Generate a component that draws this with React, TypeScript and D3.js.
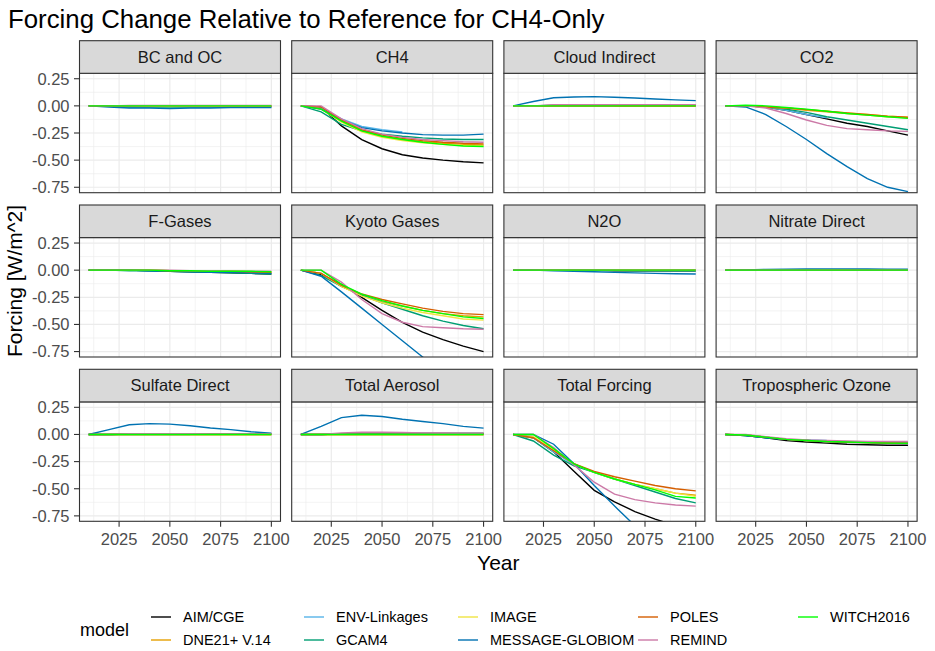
import * as d3 from 'd3'

// years shared by all series
const YEARS = [2010, 2020, 2030, 2040, 2050, 2060, 2070, 2080, 2090, 2100]

const MODELS = ['AIM/CGE', 'DNE21+ V.14', 'ENV-Linkages', 'GCAM4', 'IMAGE', 'MESSAGE-GLOBIOM', 'POLES', 'REMIND', 'WITCH2016']
const COLORS = ['#000000', '#E69F00', '#56B4E9', '#009E73', '#F0E442', '#0072B2', '#D55E00', '#CC79A7', '#00FF00']

const PANELS = ['BC and OC', 'CH4', 'Cloud Indirect', 'CO2', 'F-Gases', 'Kyoto Gases', 'N2O', 'Nitrate Direct',
  'Sulfate Direct', 'Total Aerosol', 'Total Forcing', 'Tropospheric Ozone']

const X_TICKS = [2025, 2050, 2075, 2100]
const Y_TICKS = [0.25, 0, -0.25, -0.5, -0.75]
const Y_LABELS = ['0.25', '0.00', '-0.25', '-0.50', '-0.75']

type S = (number | null)[]
const N = null

// one row per model, in MODELS order
const bcOc: S[] = [
  [0, 0, -0.005, -0.005, -0.005, -0.005, -0.005, -0.005, -0.005, -0.005],
  [0, 0, 0, 0, 0, 0, 0, 0, 0, 0],
  [0, 0, -0.005, -0.005, -0.005, -0.005, N, N, N, N],
  [0, -0.005, -0.01, -0.01, -0.01, -0.01, -0.01, -0.01, -0.01, -0.01],
  [0, 0, 0, -0.005, -0.005, -0.005, -0.005, -0.005, -0.005, -0.005],
  [0, -0.01, -0.02, -0.02, -0.025, -0.02, -0.02, -0.015, -0.015, -0.015],
  [0, 0, 0, 0, 0, 0, 0, 0, 0, 0],
  [0, 0, 0.004, 0.004, 0.004, 0.004, 0.004, 0.004, 0.004, 0.004],
  [0, 0, 0, 0, 0, 0, 0, 0, 0, 0],
]
const ch4: S[] = [
  [0, -0.01, -0.185, -0.31, -0.395, -0.45, -0.48, -0.5, -0.515, -0.525],
  [0, -0.02, -0.14, -0.23, -0.28, -0.31, -0.33, -0.345, -0.355, -0.36],
  [0, -0.02, -0.12, -0.19, -0.22, -0.24, N, N, N, N],
  [0, -0.055, -0.17, -0.23, -0.26, -0.28, -0.295, -0.305, -0.31, -0.31],
  [0, -0.03, -0.15, -0.24, -0.29, -0.32, -0.34, -0.355, -0.365, -0.37],
  [0, -0.03, -0.13, -0.2, -0.23, -0.25, -0.265, -0.27, -0.27, -0.26],
  [0, -0.01, -0.13, -0.22, -0.27, -0.3, -0.32, -0.335, -0.345, -0.35],
  [0, 0, -0.12, -0.21, -0.26, -0.29, -0.31, -0.32, -0.33, -0.335],
  [0, -0.03, -0.14, -0.23, -0.28, -0.31, -0.335, -0.355, -0.37, -0.375],
]
const cloudIndirect: S[] = [
  [0, 0, 0, 0, 0, 0, 0, 0, 0, 0],
  [0, 0, 0.003, 0.003, 0.003, 0.003, 0.003, 0.003, 0.003, 0.003],
  [0, 0, 0, 0, 0, 0, N, N, N, N],
  [0, 0, 0.005, 0.005, 0.005, 0.005, 0.005, 0.005, 0.005, 0.005],
  [0, 0, 0, 0, 0, 0, 0, 0, 0, 0],
  [0, 0.04, 0.075, 0.082, 0.085, 0.08, 0.072, 0.063, 0.055, 0.048],
  [0, 0, 0, 0, 0, 0, 0, 0, 0, 0],
  [0, 0, 0.01, 0.01, 0.01, 0.01, 0.01, 0.01, 0.01, 0.01],
  [0, 0, 0, 0, 0, 0, 0, 0, 0, 0],
]
const co2: S[] = [
  [0, 0, -0.01, -0.04, -0.08, -0.12, -0.16, -0.19, -0.23, -0.27],
  [0, 0, -0.01, -0.02, -0.04, -0.055, -0.07, -0.085, -0.1, -0.11],
  [0, 0, -0.01, -0.04, -0.08, -0.11, N, N, N, N],
  [0, 0, -0.01, -0.03, -0.06, -0.1, -0.13, -0.16, -0.19, -0.22],
  [0, 0, -0.01, -0.02, -0.035, -0.05, -0.065, -0.08, -0.095, -0.105],
  [0, -0.01, -0.08, -0.19, -0.31, -0.44, -0.56, -0.67, -0.75, -0.79],
  [0, 0, -0.01, -0.02, -0.035, -0.05, -0.065, -0.08, -0.095, -0.105],
  [0, 0, -0.02, -0.07, -0.13, -0.18, -0.21, -0.22, -0.23, -0.235],
  [0, 0.005, 0, -0.015, -0.03, -0.05, -0.07, -0.085, -0.1, -0.115],
]
const fGases: S[] = [
  [0, 0, 0, -0.005, -0.01, -0.015, -0.02, -0.025, -0.03, -0.035],
  [0, 0, 0, 0, -0.005, -0.01, -0.01, -0.015, -0.02, -0.02],
  [0, 0, 0, -0.005, -0.005, -0.01, N, N, N, N],
  [0, 0, -0.005, -0.005, -0.01, -0.015, -0.02, -0.025, -0.03, -0.035],
  [0, 0, 0, 0, -0.005, -0.005, -0.01, -0.01, -0.015, -0.015],
  [0, 0, 0, -0.005, -0.01, -0.015, -0.02, -0.02, -0.025, -0.03],
  [0, 0, 0, 0, -0.005, -0.005, -0.01, -0.01, -0.015, -0.02],
  [0, 0, 0, 0, 0, -0.005, -0.005, -0.01, -0.01, -0.01],
  [0, 0, 0, 0, -0.005, -0.005, -0.01, -0.01, -0.01, -0.015],
]
const kyoto: S[] = [
  [0, -0.04, -0.13, -0.25, -0.37, -0.48, -0.57, -0.64, -0.7, -0.75],
  [0, -0.03, -0.15, -0.23, -0.29, -0.33, -0.37, -0.4, -0.42, -0.43],
  [0, -0.03, -0.14, -0.23, -0.3, -0.35, N, N, N, N],
  [0, -0.05, -0.15, -0.23, -0.3, -0.36, -0.42, -0.47, -0.51, -0.54],
  [0, -0.03, -0.15, -0.24, -0.3, -0.35, -0.39, -0.42, -0.45, -0.46],
  [0, -0.056, -0.2, -0.35, -0.5, -0.65, -0.8, -0.95, -1.1, -1.25],
  [0, -0.03, -0.14, -0.22, -0.27, -0.31, -0.35, -0.38, -0.4, -0.41],
  [0, 0, -0.11, -0.27, -0.4, -0.48, -0.52, -0.53, -0.54, -0.545],
  [0, 0, -0.13, -0.22, -0.28, -0.33, -0.37, -0.4, -0.43, -0.445],
]
const n2o: S[] = [
  [0, 0, 0, 0, 0, -0.005, -0.005, -0.005, -0.005, -0.005],
  [0, 0, 0, 0, 0, 0, 0, 0, 0, 0],
  [0, 0, 0, 0, 0, 0, N, N, N, N],
  [0, 0, 0, 0, -0.003, -0.003, -0.005, -0.005, -0.005, -0.005],
  [0, 0, 0, 0, 0, 0, 0, 0, 0, 0],
  [0, 0, -0.005, -0.01, -0.015, -0.02, -0.025, -0.03, -0.033, -0.035],
  [0, 0, 0, 0, 0, 0, 0, 0, 0, 0],
  [0, 0, 0, 0, 0, 0, 0, 0, 0, 0],
  [0, 0, 0, 0, 0, 0, 0, 0, 0, 0],
]
const nitrate: S[] = [
  [0, 0, 0, 0, 0, 0, 0, 0, 0, 0],
  [0, 0, 0, 0, 0, 0, 0, 0, 0, 0],
  [0, 0, 0, 0, 0, 0, N, N, N, N],
  [0, 0, 0, 0, 0, 0, 0, 0, 0, 0],
  [0, 0, 0, 0, 0, 0, 0, 0, 0, 0],
  [0, 0.003, 0.006, 0.009, 0.011, 0.012, 0.012, 0.011, 0.01, 0.009],
  [0, 0, 0, 0, 0, 0, 0, 0, 0, 0],
  [0, 0, 0, 0, 0, 0, 0, 0, 0, 0],
  [0, 0, 0, 0, 0, 0, 0, 0, 0, 0],
]
const sulfate: S[] = [
  [0, 0, 0.003, 0.003, 0.003, 0.003, 0.003, 0.003, 0.003, 0.003],
  [0, 0, 0, 0, 0, 0, 0, 0, 0, 0],
  [0, 0, 0, 0, 0, 0, N, N, N, N],
  [0, 0, 0.003, 0.003, 0.003, 0.003, 0.003, 0.003, 0.003, 0.003],
  [0, 0, 0, 0, 0, 0, 0, 0, 0, 0],
  [0, 0.045, 0.09, 0.1, 0.095, 0.08, 0.06, 0.045, 0.025, 0.012],
  [0, 0, 0, 0, 0, 0, 0, 0, 0, 0],
  [0, 0, 0.006, 0.006, 0.006, 0.006, 0.005, 0.005, 0.005, 0.005],
  [0, 0, 0, 0, 0, 0, 0, 0, 0, 0],
]
const totalAerosol: S[] = [
  [0, 0, 0.005, 0.008, 0.01, 0.01, 0.01, 0.01, 0.01, 0.01],
  [0, 0, 0, 0, 0, 0, 0, 0, 0, 0],
  [0, 0, 0.005, 0.005, 0.005, 0.005, N, N, N, N],
  [0, 0, 0.005, 0.01, 0.01, 0.01, 0.01, 0.01, 0.01, 0.01],
  [0, 0, 0, 0, 0, 0, 0, 0, 0, 0],
  [0, 0.075, 0.155, 0.177, 0.165, 0.14, 0.12, 0.1, 0.075, 0.058],
  [0, 0, 0, 0, 0, 0, 0, 0, 0, 0],
  [0, 0, 0.015, 0.02, 0.02, 0.018, 0.015, 0.013, 0.012, 0.012],
  [0, 0, 0, 0, 0, 0, 0, 0, 0, 0],
]
const totalForcing: S[] = [
  [0, -0.03, -0.16, -0.34, -0.515, -0.62, -0.71, -0.78, -0.84, -0.88],
  [0, -0.03, -0.15, -0.27, -0.35, -0.41, -0.46, -0.5, -0.54, -0.56],
  [0, -0.03, -0.16, -0.28, -0.35, -0.41, N, N, N, N],
  [0, -0.06, -0.19, -0.29, -0.35, -0.41, -0.47, -0.53, -0.59, -0.63],
  [0, -0.02, -0.14, -0.27, -0.35, -0.41, -0.46, -0.5, -0.54, -0.57],
  [0, 0, -0.09, -0.27, -0.47, -0.66, -0.84, -1.0, -1.15, -1.3],
  [0, -0.03, -0.15, -0.27, -0.34, -0.39, -0.43, -0.47, -0.5, -0.52],
  [0, 0, -0.12, -0.28, -0.44, -0.55, -0.6, -0.63, -0.65, -0.66],
  [0, 0, -0.13, -0.27, -0.35, -0.41, -0.46, -0.51, -0.57, -0.585],
]
const tropOzone: S[] = [
  [0, -0.01, -0.03, -0.055, -0.07, -0.08, -0.09, -0.095, -0.1, -0.1],
  [0, -0.005, -0.025, -0.045, -0.055, -0.065, -0.07, -0.075, -0.078, -0.08],
  [0, -0.005, -0.025, -0.045, -0.05, -0.055, N, N, N, N],
  [0, -0.01, -0.03, -0.045, -0.055, -0.065, -0.07, -0.075, -0.075, -0.075],
  [0, -0.005, -0.025, -0.045, -0.055, -0.065, -0.07, -0.075, -0.078, -0.08],
  [0, -0.01, -0.03, -0.045, -0.055, -0.065, -0.07, -0.075, -0.08, -0.08],
  [0, -0.005, -0.025, -0.045, -0.055, -0.065, -0.07, -0.075, -0.078, -0.08],
  [0, 0, -0.02, -0.04, -0.05, -0.055, -0.06, -0.065, -0.065, -0.065],
  [0, -0.005, -0.025, -0.045, -0.055, -0.065, -0.07, -0.075, -0.08, -0.082],
]

const PANEL_DATA = [bcOc, ch4, cloudIndirect, co2, fGases, kyoto, n2o, nitrate, sulfate, totalAerosol, totalForcing, tropOzone]

// legend: models are filled column by column, two rows
const LEGEND_COLS = [[0, 1], [2, 3], [4, 5], [6, 7], [8]]

const FONT = '"Liberation Sans", Arial, Helvetica, sans-serif'

export default function App() {
  const W = 935, H = 651
  const left0 = 79.5, colStep = 212.2, pw = 201
  const top0 = 40.7, rowStep = 164.3, stripH = 32.6, ph = 119.4

  const x = d3.scaleLinear().domain([2005.5, 2104.5]).range([0, pw])
  const y = d3.scaleLinear().domain([-0.8, 0.3]).range([ph, 0])
  const line = d3.line<[number, number | null]>()
    .defined(d => d[1] != null)
    .x(d => x(d[0]))
    .y(d => y(d[1] as number))

  const xMinor = [2012.5, 2037.5, 2062.5, 2087.5]
  const yMinor = [0.125, -0.125, -0.375, -0.625]
  const legendTextX = [183, 336, 490, 670, 830]
  const legendRowY = [617, 640]

  return (
    <svg width={W} height={H} style={{ position: 'absolute', left: 0, top: 0, background: '#fff' }}
      fontFamily={FONT}>
      <rect width={W} height={H} fill="#fff" />
      <text x={8} y={28} fontSize={25.8} fill="#000">Forcing Change Relative to Reference for CH4-Only</text>

      {PANELS.map((name, i) => {
        const c = i % 4, r = Math.floor(i / 4)
        const px = left0 + c * colStep
        const sy = top0 + r * rowStep
        const py = sy + stripH
        const clipId = `clip-${i}`
        return (
          <g key={name}>
            <g transform={`translate(${px},${py})`}>
              <defs>
                <clipPath id={clipId}><rect width={pw} height={ph} /></clipPath>
              </defs>
              <rect width={pw} height={ph} fill="#fff" />
              {xMinor.map(v => <line key={'xm' + v} x1={x(v)} x2={x(v)} y1={0} y2={ph} stroke="#EBEBEB" strokeWidth={0.6} />)}
              {yMinor.map(v => <line key={'ym' + v} x1={0} x2={pw} y1={y(v)} y2={y(v)} stroke="#EBEBEB" strokeWidth={0.6} />)}
              {X_TICKS.map(v => <line key={'xg' + v} x1={x(v)} x2={x(v)} y1={0} y2={ph} stroke="#EBEBEB" strokeWidth={1.2} />)}
              {Y_TICKS.map(v => <line key={'yg' + v} x1={0} x2={pw} y1={y(v)} y2={y(v)} stroke="#EBEBEB" strokeWidth={1.2} />)}
              <g clipPath={`url(#${clipId})`}>
                {PANEL_DATA[i].map((vals, m) => (
                  <path key={MODELS[m]}
                    d={line(YEARS.map((yr, k) => [yr, vals[k]] as [number, number | null])) ?? ''}
                    fill="none" stroke={COLORS[m]} strokeWidth={1.4} />
                ))}
              </g>
              <rect width={pw} height={ph} fill="none" stroke="#333333" strokeWidth={1.1} />
              {c === 0 && Y_TICKS.map((v, k) => (
                <g key={'yt' + v}>
                  <line x1={-5.5} x2={0} y1={y(v)} y2={y(v)} stroke="#333333" strokeWidth={1.1} />
                  <text x={-10} y={y(v)} dy="0.35em" textAnchor="end" fontSize={16.5} fill="#4D4D4D">{Y_LABELS[k]}</text>
                </g>
              ))}
              {r === 2 && X_TICKS.map(v => (
                <g key={'xt' + v}>
                  <line x1={x(v)} x2={x(v)} y1={ph} y2={ph + 5.5} stroke="#333333" strokeWidth={1.1} />
                  <text x={x(v)} y={ph + 17.5} dy="0.35em" textAnchor="middle" fontSize={16.5} fill="#4D4D4D">{v}</text>
                </g>
              ))}
            </g>
            <rect x={px} y={sy} width={pw} height={stripH} fill="#D9D9D9" stroke="#333333" strokeWidth={1.1} />
            <text x={px + pw / 2} y={sy + stripH / 2} dy="0.35em" textAnchor="middle" fontSize={16.5} fill="#1A1A1A">{name}</text>
          </g>
        )
      })}

      <text x={left0 + (3 * colStep + pw) / 2} y={563} dy="0.35em" textAnchor="middle" fontSize={21} fill="#000">Year</text>
      <text transform={`translate(15,${top0 + (2 * rowStep + stripH + ph) / 2}) rotate(-90)`} dy="0.35em"
        textAnchor="middle" fontSize={21} fill="#000">Forcing [W/m^2]</text>

      <text x={80} y={630} dy="0.35em" fontSize={18} fill="#000">model</text>
      {LEGEND_COLS.map((col, ci) => col.map((m, ri) => (
        <g key={MODELS[m]}>
          <line x1={legendTextX[ci] - 32} x2={legendTextX[ci] - 12} y1={legendRowY[ri]} y2={legendRowY[ri]}
            stroke={COLORS[m]} strokeWidth={1.4} />
          <text x={legendTextX[ci]} y={legendRowY[ri]} dy="0.35em" fontSize={14.5} fill="#000">{MODELS[m]}</text>
        </g>
      )))}
    </svg>
  )
}
